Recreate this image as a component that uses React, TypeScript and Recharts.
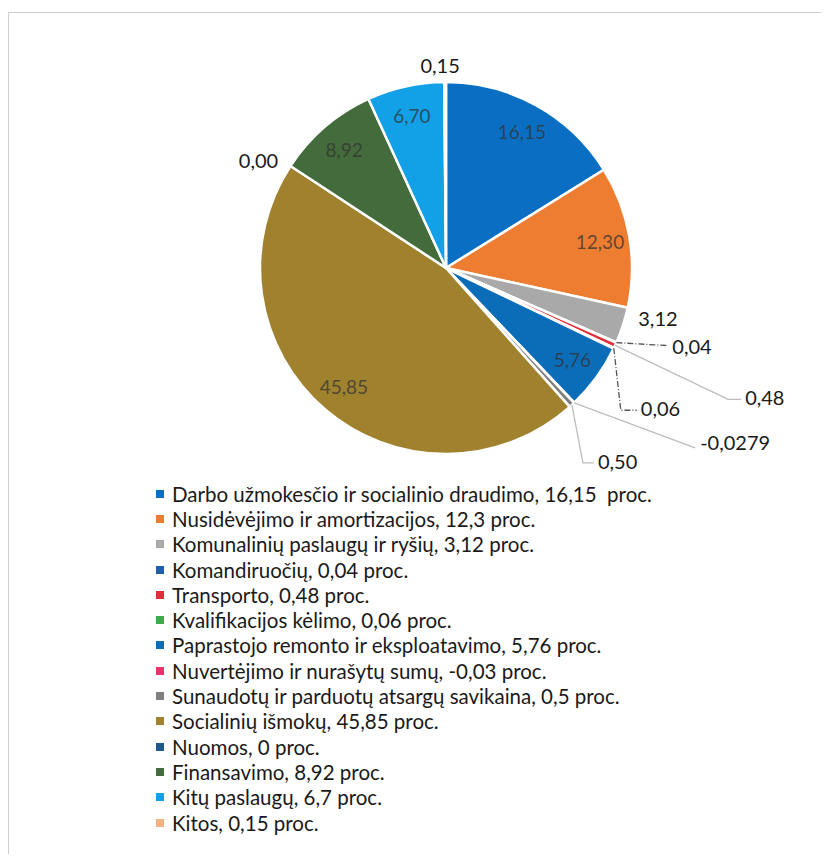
import { PieChart, Pie, Cell, Legend } from 'recharts'

const categories = [
  'Darbo užmokesčio ir socialinio draudimo',
  'Nusidėvėjimo ir amortizacijos',
  'Komunalinių paslaugų ir ryšių',
  'Komandiruočių',
  'Transporto',
  'Kvalifikacijos kėlimo',
  'Paprastojo remonto ir eksploatavimo',
  'Nuvertėjimo ir nurašytų sumų',
  'Sunaudotų ir parduotų atsargų savikaina',
  'Socialinių išmokų',
  'Nuomos',
  'Finansavimo',
  'Kitų paslaugų',
  'Kitos',
]

const values = [16.15, 12.3, 3.12, 0.04, 0.48, 0.06, 5.76, -0.0279, 0.5, 45.85, 0, 8.92, 6.7, 0.15]

const sliceLabels = ['16,15', '12,30', '3,12', '0,04', '0,48', '0,06', '5,76', '-0,0279', '0,50', '45,85', '0,00', '8,92', '6,70', '0,15']

const legendValues = ['16,15 ', '12,3', '3,12', '0,04', '0,48', '0,06', '5,76', '-0,03', '0,5', '45,85', '0', '8,92', '6,7', '0,15']

const colors = [
  '#0a6fc2',
  '#ed7d31',
  '#a9a9a9',
  '#1f5fa8',
  '#e0303a',
  '#3cac4a',
  '#0b6cb8',
  '#e8336a',
  '#7f7f7f',
  '#a0822e',
  '#1e5a8c',
  '#436b3b',
  '#12a0e6',
  '#f4b183',
]

const data = categories.map((name, i) => ({ name, value: values[i] }))

// label placement, relative to the outer edge point of each slice
type Outer = { dx: number; dy: number; anchor: 'start' | 'middle'; leader?: number[][]; dark?: boolean }
const outerLabels: Record<number, Outer> = {
  2: { dx: 35, dy: -7, anchor: 'middle' },
  3: { dx: 56, dy: 3, anchor: 'start', leader: [[0, 0], [52, 3]], dark: true },
  4: { dx: 130, dy: 52, anchor: 'start', leader: [[0, 0], [113, 54], [126, 54]] },
  5: { dx: 27, dy: 60, anchor: 'start', leader: [[0, 0], [7, 62], [23, 62]], dark: true },
  7: { dx: 126, dy: 39, anchor: 'start', leader: [[0, 0], [121, 45]] },
  8: { dx: 26, dy: 56, anchor: 'start', leader: [[0, 0], [11, 58], [22, 58]] },
  10: { dx: -32, dy: -6, anchor: 'middle' },
  13: { dx: -5, dy: -17, anchor: 'middle' },
}

const RADIAN = Math.PI / 180

const renderLabel = (props: any) => {
  const { cx, cy, midAngle, outerRadius, index } = props
  const cos = Math.cos(-midAngle * RADIAN)
  const sin = Math.sin(-midAngle * RADIAN)
  const o = outerLabels[index]
  if (!o) {
    const r = outerRadius * 0.84
    return (
      <text
        x={cx + r * cos}
        y={cy + r * sin}
        textAnchor="middle"
        dominantBaseline="central"
        fill="#333"
        fillOpacity={0.75}
        fontSize={19}
      >
        {sliceLabels[index]}
      </text>
    )
  }
  const ex = cx + outerRadius * cos
  const ey = cy + outerRadius * sin
  return (
    <g>
      {o.leader && (
        <polyline
          points={o.leader.map(([x, y]) => `${ex + x},${ey + y}`).join(' ')}
          fill="none"
          stroke={o.dark ? '#555' : '#bdbdbd'}
          strokeWidth={1.3}
          strokeDasharray={o.dark ? '6 2 1 2' : undefined}
        />
      )}
      <text
        x={ex + o.dx}
        y={ey + o.dy}
        textAnchor={o.anchor}
        dominantBaseline="central"
        fill="#1a1a1a"
        fontSize={20}
      >
        {sliceLabels[index]}
      </text>
    </g>
  )
}

const renderLegend = () => (
  <ul style={{ listStyle: 'none', margin: 0, padding: 0 }}>
    {categories.map((c, i) => (
      <li
        key={c}
        style={{ display: 'flex', alignItems: 'center', height: 25.3, fontSize: 20.5, color: '#1a1a1a', whiteSpace: 'pre' }}
      >
        <span style={{ display: 'inline-block', width: 8, height: 8, background: colors[i], marginRight: 8 }} />
        {`${c}, ${legendValues[i]} proc.`}
      </li>
    ))}
  </ul>
)

export default function App() {
  return (
    <div
      style={{
        position: 'relative',
        top: 4,
        width: 820,
        height: 844,
        border: '1px solid #cfcfcf',
        borderRight: 'none',
        fontFamily: 'Lato, sans-serif',
      }}
    >
      <PieChart width={820} height={844} style={{ fontFamily: 'Lato, sans-serif' }}>
        <Pie
          data={data}
          dataKey={(d: any) => Math.abs(d.value)}
          nameKey="name"
          cx={432}
          cy={250}
          outerRadius={186}
          startAngle={90}
          endAngle={-270}
          stroke="#fff"
          strokeWidth={2.5}
          label={renderLabel}
          labelLine={false}
          isAnimationActive={false}
        >
          {data.map((d, i) => (
            <Cell key={d.name} fill={colors[i]} />
          ))}
        </Pie>
        <Legend
          layout="vertical"
          align="center"
          verticalAlign="middle"
          content={renderLegend}
          wrapperStyle={{ left: 147, top: 468, width: 620 }}
        />
      </PieChart>
    </div>
  )
}
